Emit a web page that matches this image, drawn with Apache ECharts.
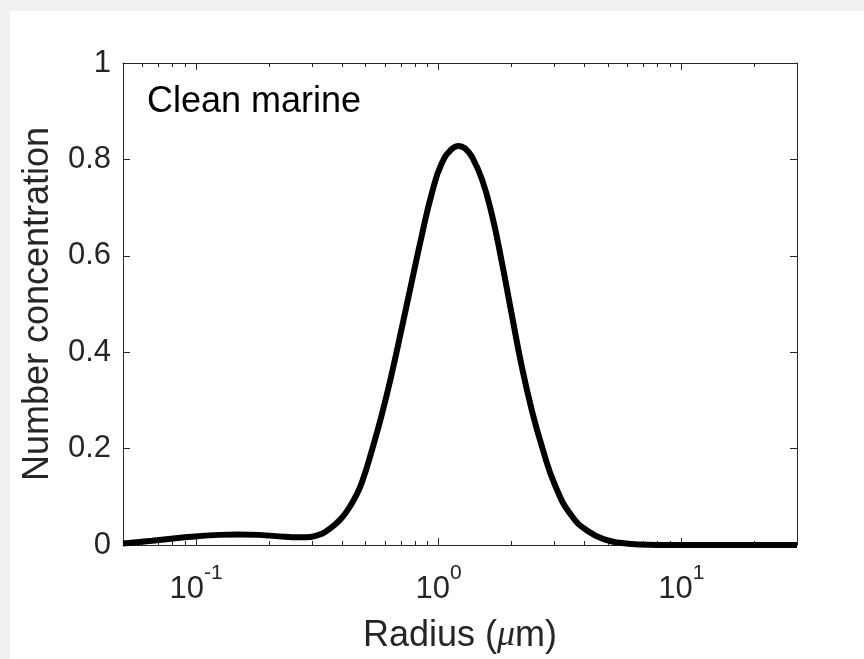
<!DOCTYPE html>
<html>
<head>
<meta charset="utf-8">
<script src="https://cdn.jsdelivr.net/npm/echarts@6/dist/echarts.min.js"></script>
<style>
html,body{margin:0;padding:0;background:#f0f0f0;}
#chart{width:864px;height:659px;}
</style>
</head>
<body>
<div id="chart"></div>
<script>
// ---- data ----
const radius = [0.05, 0.066, 0.09, 0.124, 0.15, 0.181, 0.233, 0.26, 0.282, 0.32, 0.345, 0.375, 0.40, 0.426, 0.455, 0.483, 0.531, 0.584, 0.642, 0.706, 0.776, 0.853, 0.938, 1.03, 1.135, 1.21, 1.29, 1.37, 1.51, 1.66, 1.82, 2.0, 2.2, 2.42, 2.67, 3.03, 3.54, 4.15, 4.86, 5.69, 6.67, 8, 10, 15, 20, 30];
const concentration = [0.003, 0.009, 0.016, 0.021, 0.022, 0.021, 0.017, 0.016, 0.016, 0.021, 0.029, 0.043, 0.057, 0.076, 0.101, 0.13, 0.197, 0.272, 0.357, 0.452, 0.548, 0.643, 0.73, 0.792, 0.822, 0.828, 0.822, 0.806, 0.758, 0.684, 0.588, 0.479, 0.371, 0.28, 0.203, 0.122, 0.06, 0.028, 0.011, 0.004, 0.001, 0, 0, 0, 0, 0];
const xMajorTicks = [0.1, 1, 10];
const xTickExponents = ['-1', '0', '1'];
const xMinorTicks = [0.06, 0.07, 0.08, 0.09, 0.2, 0.3, 0.4, 0.5, 0.6, 0.7, 0.8, 0.9, 2, 3, 4, 5, 6, 7, 8, 9, 20, 30];
const xRange = [0.05, 30];
const yRange = [0, 1];
const yStep = 0.2;
const panelLabel = 'Clean marine';
const xTitle = ['Radius (', 'μ', 'm)'];
const yTitle = 'Number concentration';

const FONT = 'Arial, "Liberation Sans", Helvetica, sans-serif';
const AX = '#262626';

const chart = echarts.init(document.getElementById('chart'), null, {renderer: 'canvas'});

function xAxisDef(position, minor) {
  return {
    type: 'log', logBase: 10, min: xRange[0], max: xRange[1], position: position,
    axisLine: {show: !minor, onZero: false, lineStyle: {color: AX, width: 1}},
    axisTick: {show: true, inside: true, length: minor ? 4 : 7, customValues: minor ? xMinorTicks : xMajorTicks,
               lineStyle: {color: AX, width: 1}},
    axisLabel: (!minor && position === 'bottom') ? {
      show: true, customValues: xMajorTicks, margin: 18,
      formatter: function (v) {
        const i = xMajorTicks.findIndex(t => Math.abs(t - v) / t < 1e-6);
        return '{b|10}{s|' + (i >= 0 ? xTickExponents[i] : '') + '}';
      },
      rich: {
        b: {fontSize: 31, lineHeight: 42, verticalAlign: 'bottom', color: AX, fontFamily: FONT},
        s: {fontSize: 21, lineHeight: 21, verticalAlign: 'top', color: AX, fontFamily: FONT}
      }
    } : {show: false},
    splitLine: {show: false}, minorTick: {show: false}, minorSplitLine: {show: false}
  };
}

const xAxes = [xAxisDef('bottom', false), xAxisDef('bottom', true), xAxisDef('top', false), xAxisDef('top', true)];
xAxes[0].name = '{a|' + xTitle[0] + '}{i|' + xTitle[1] + '}{a|' + xTitle[2] + '}';
xAxes[0].nameLocation = 'middle';
xAxes[0].nameGap = 73;
xAxes[0].nameTextStyle = {
  rich: {
    a: {fontSize: 36, color: AX, fontFamily: FONT},
    i: {fontSize: 36, color: AX, fontFamily: '"Times New Roman", "Liberation Serif", serif', fontStyle: 'italic'}
  }
};

function yAxisDef(position) {
  return {
    type: 'value', min: yRange[0], max: yRange[1], interval: yStep, position: position,
    axisLine: {show: true, onZero: false, lineStyle: {color: AX, width: 1}},
    axisTick: {show: true, inside: true, length: 7, lineStyle: {color: AX, width: 1}},
    axisLabel: position === 'left' ? {show: true, margin: 12, fontSize: 31, color: AX, fontFamily: FONT} : {show: false},
    splitLine: {show: false}
  };
}
const yAxes = [yAxisDef('left'), yAxisDef('right')];
yAxes[0].name = yTitle;
yAxes[0].nameLocation = 'middle';
yAxes[0].nameGap = 67;
yAxes[0].nameRotate = 90;
yAxes[0].nameTextStyle = {fontSize: 36, color: AX, fontFamily: FONT};

chart.setOption({
  backgroundColor: '#f0f0f0',
  animation: false,
  graphic: [
    {type: 'rect', left: 10, top: 11, z: -100, shape: {width: 854, height: 648}, style: {fill: '#ffffff'}},
    {type: 'text', left: 147, top: 84, z: 10, style: {text: panelLabel, font: '36px ' + FONT, fill: '#000000'}}
  ],
  grid: {left: 123, top: 63, width: 674, height: 486, containLabel: false},
  xAxis: xAxes,
  yAxis: yAxes,
  series: [{
    type: 'line', xAxisIndex: 0, yAxisIndex: 0,
    data: radius.map((r, i) => [r, concentration[i]]),
    showSymbol: false, symbol: 'none', smooth: 0.5, clip: false,
    lineStyle: {color: '#000000', width: 6},
    z: 5
  }]
});
</script>
</body>
</html>
